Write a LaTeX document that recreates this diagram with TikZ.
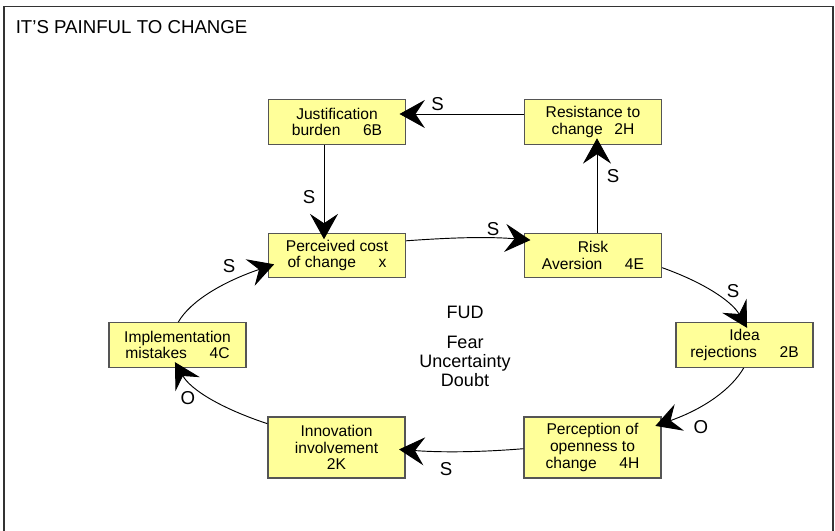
\documentclass[tikz,border=0pt]{standalone}
\usepackage{fontspec}
\setmainfont{Liberation Sans}
\usetikzlibrary{arrows.meta}
\definecolor{boxfill}{HTML}{FFFF99}
\definecolor{boxline}{HTML}{555555}
\begin{document}
\begin{tikzpicture}[x=0.75pt,y=-0.75pt,
  stepbox/.style={draw=boxline, line width=1pt, fill=boxfill,
    minimum width=102.75pt, minimum height=33.4pt, inner sep=0pt,
    align=center, font=\fontsize{11.7}{12.5}\selectfont},
  tallbox/.style={stepbox, minimum height=45.75pt},
  link/.style={draw=black, line width=0.7pt,
    -{Stealth[length=19pt,width=21pt,inset=7pt,fill=black]}, shorten >=-5pt},
  tag/.style={inner sep=0pt, font=\fontsize{14}{14}\selectfont},
  caption/.style={inner sep=0pt, font=\fontsize{13.5}{14.25}\selectfont, align=center},
]
\useasboundingbox (0,0) rectangle (835,531);

% outer frame, open at the bottom
\draw[black!80, line width=0.8pt] (4,531) -- (4,6.5) -- (833,6.5) -- (833,531);

\node[caption, anchor=west, font=\fontsize{14}{14}\selectfont] (title) at (15.5,27.5) {IT’S PAINFUL TO CHANGE};

% the loop of steps
\node[stepbox] (just)   at (337,122)     {Justification\\burden\hspace{1.45em}6B};
\node[stepbox] (resist) at (593,122)     {Resistance to\\change\hspace{0.75em}2H};
\node[stepbox] (perc)   at (337,255.5)   {Perceived cost\\of change\hspace{1.45em}x};
\node[stepbox] (risk)   at (593,255.5)   {Risk\\Aversion\hspace{1.45em}4E};
\node[stepbox] (idea)   at (744.5,345)   {Idea\\rejections\hspace{1.45em}2B};
\node[stepbox] (impl)   at (177.5,345)   {Implementation\\mistakes\hspace{1.45em}4C};
\node[tallbox] (perco)  at (592.5,447.5) {Perception of\\openness to\\change\hspace{1.45em}4H};
\node[tallbox] (innov)  at (336.5,447.5) {Innovation\\involvement\\2K};

% centre text
\node[caption] (fud) at (465,312) {FUD};
\node[caption] (fudlist) at (465,361) {Fear\\Uncertainty\\Doubt};

% straight links
\draw[link] ([yshift=6pt]resist.west) -- ([yshift=6pt]just.east);
\draw[link] ([xshift=-9.75pt]just.south) -- ([xshift=-9.75pt]perc.north);
\draw[link] ([xshift=3pt]risk.north) -- ([xshift=3pt]resist.south);

% elliptical loop links
\draw[link] (perc.12.75) to[out=4.1,in=175.2,out distance=29.6pt,in distance=29.4pt] (risk.167.7);
\draw[link] (risk.-10.26) to[out=-19.6,in=119.9,out distance=33.1pt,in distance=18.1pt] (idea.92);
\draw[link] (idea.-92) to[out=240.1,in=19.4,out distance=18.3pt,in distance=33.7pt] (perco.19.98);
\draw[link] (perco.181.6) to[out=184.7,in=-4.2,out distance=29.4pt,in distance=29.4pt] (innov.-2.1);
\draw[link] (innov.161.5) to[out=161.6,in=-60.1,out distance=36.1pt,in distance=19.2pt] (impl.-88);
\draw[link] (impl.88) to[out=60.1,in=198.9,out distance=18.7pt,in distance=34.7pt] (perc.189.1);

% link polarities
\node[tag] (l1) at (437.5,104) {S};
\node[tag] (l2) at (309,197)   {S};
\node[tag] (l3) at (493,229)   {S};
\node[tag] (l4) at (613,176)   {S};
\node[tag] (l5) at (733,291)   {S};
\node[tag] (l6) at (701,427)   {O};
\node[tag] (l7) at (446,469)   {S};
\node[tag] (l8) at (188,398)   {O};
\node[tag] (l9) at (229,266)   {S};
\end{tikzpicture}
\end{document}
